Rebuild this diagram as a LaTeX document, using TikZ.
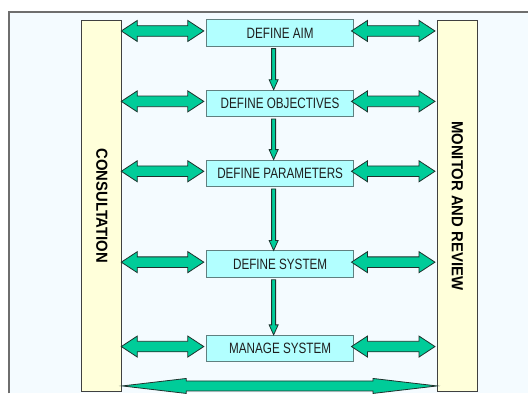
\documentclass[tikz,border=0pt]{standalone}
\usepackage{fontspec}
\setmainfont{Liberation Sans}
\usetikzlibrary{calc}
\definecolor{bg}{RGB}{244,251,255}
\definecolor{boxfill}{RGB}{178,255,255}
\definecolor{boxline}{RGB}{96,128,128}
\definecolor{barfill}{RGB}{255,255,218}
\definecolor{barline}{RGB}{64,64,64}
\definecolor{arrfill}{RGB}{0,204,153}
\definecolor{arrline}{RGB}{30,50,45}
\definecolor{framecol}{RGB}{110,110,110}
\newcommand\vdown[2]{%
  \coordinate (t) at ($(#1.south)+(-6.5,2)$);
  \coordinate (b) at ($(#2.north)+(-6.5,0)$);
  \draw[arr] ($(t)+(-2,0)$) -- ($(b)+(-2,-10)$) -- ($(b)+(-4.5,-10)$) -- (b) -- ($(b)+(4.5,-10)$) -- ($(b)+(2,-10)$) -- ($(t)+(2,0)$) -- cycle;}
\newcommand\hdbl[5]{%
  \coordinate (l) at #1; \coordinate (r) at #2;
  \draw[arr] (l) -- ($(l)+(#3,-#4)$) -- ($(l)+(#3,-#5)$) -- ($(r)+(-#3,-#5)$) -- ($(r)+(-#3,-#4)$) -- (r) -- ($(r)+(-#3,#4)$) -- ($(r)+(-#3,#5)$) -- ($(l)+(#3,#5)$) -- ($(l)+(#3,#4)$) -- cycle;}
\begin{document}
\begin{tikzpicture}[x=1pt,y=-1pt,
  stepbox/.style={draw=boxline, line width=0.9pt, fill=boxfill, minimum width=147pt, minimum height=26.5pt, inner sep=0pt, text=black!88, font=\fontsize{15}{18}\selectfont},
  bar/.style={draw=barline, line width=0.9pt, fill=barfill, minimum width=40pt, minimum height=372pt, inner sep=0pt},
  bartext/.style={rotate=-90, font=\bfseries\fontsize{16}{19}\selectfont, inner sep=0pt},
  arr/.style={draw=arrline, line width=0.8pt, fill=arrfill, line join=miter},
]
\fill[white] (0,0) rectangle (529,394);
\fill[bg] (9,12) rectangle (529,394);
\draw[framecol, line width=1.4pt] (9,394) -- (9,12) -- (529,12);
\useasboundingbox (0,0) rectangle (529,394);

\node[bar] (consl) at (102,206) {};
\node[bartext] (consltext) at (consl.center) {\scalebox{0.93}[1]{CONSULTATION}};
\node[bar] (mon) at (458,206) {};
\node[bartext] (montext) at (mon.center) {\scalebox{0.93}[1]{MONITOR AND REVIEW}};

\node[stepbox] (aim) at (280.5,33) {\scalebox{0.78}[1]{DEFINE AIM}};
\node[stepbox] (obj) at (280.5,103.5) {\scalebox{0.78}[1]{DEFINE OBJECTIVES}};
\node[stepbox] (par) at (280.5,173.5) {\scalebox{0.78}[1]{DEFINE PARAMETERS}};
\node[stepbox] (sys) at (280.5,264.5) {\scalebox{0.78}[1]{DEFINE SYSTEM}};
\node[stepbox] (man) at (280.5,349) {\scalebox{0.78}[1]{MANAGE SYSTEM}};

\vdown{aim}{obj}
\vdown{obj}{par}
\vdown{par}{sys}
\vdown{sys}{man}

\foreach \b in {aim,obj,par,sys,man}{
  \hdbl{($(consl.east |- \b.west)+(-1,-2)$)}{($(\b.west)+(-2.5,-2)$)}{16}{10.5}{5.3}
  \hdbl{($(\b.east)+(-2.5,-2)$)}{($(mon.west |- \b.east)+(-2,-2)$)}{16}{10.5}{5.3}
}
\hdbl{($(consl.south east)+(0,-6)$)}{($(mon.south west)+(0,-6)$)}{64}{7.5}{5}
\end{tikzpicture}
\end{document}
